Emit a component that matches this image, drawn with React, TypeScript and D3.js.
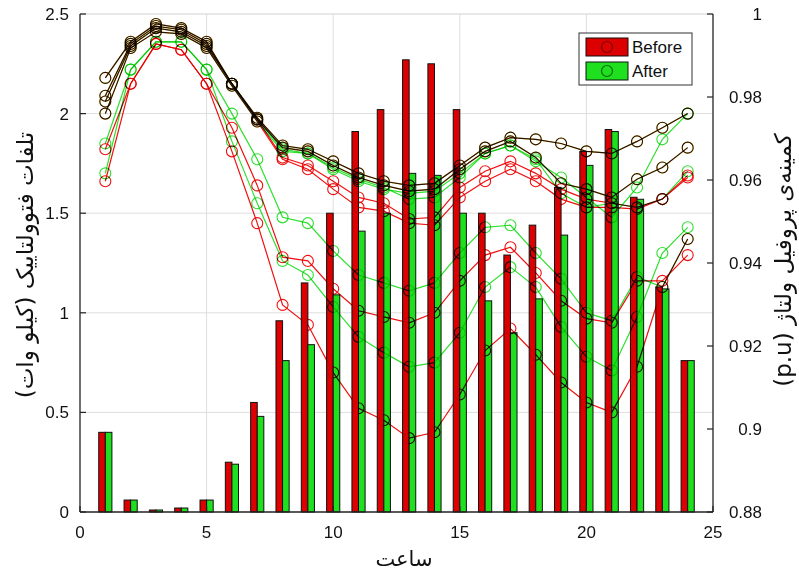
import React, { useEffect } from 'react';
import * as d3 from 'd3';

// ---------- data ----------
const hours = [1, 2, 3, 4, 5, 6, 7, 8, 9, 10, 11, 12, 13, 14, 15, 16, 17, 18, 19, 20, 21, 22, 23, 24];

// PV losses (kW), left axis
const lossBefore = [0.40, 0.06, 0.01, 0.02, 0.06, 0.25, 0.55, 0.96, 1.15, 1.50, 1.91, 2.02, 2.27, 2.25, 2.02, 1.50, 1.29, 1.44, 1.63, 1.81, 1.92, 1.58, 1.13, 0.76];
const lossAfter = [0.40, 0.06, 0.01, 0.02, 0.06, 0.24, 0.48, 0.76, 0.84, 1.09, 1.41, 1.50, 1.70, 1.69, 1.50, 1.06, 0.90, 1.07, 1.39, 1.74, 1.91, 1.57, 1.12, 0.76];

// minimum voltage profiles (p.u.), right axis
const vBus1Before = [0.9846, 0.9933, 0.9976, 0.9966, 0.9933, 0.9832, 0.9750, 0.9683, 0.9674, 0.9645, 0.9616, 0.9597, 0.9587, 0.9592, 0.9635, 0.9678, 0.9702, 0.9698, 0.9688, 0.9669, 0.9664, 0.9693, 0.9726, 0.9760];
const vBus1After = [0.9846, 0.9933, 0.9976, 0.9966, 0.9933, 0.9832, 0.9750, 0.9683, 0.9674, 0.9645, 0.9616, 0.9597, 0.9587, 0.9592, 0.9635, 0.9678, 0.9702, 0.9698, 0.9688, 0.9669, 0.9664, 0.9693, 0.9726, 0.9760];
const vBus2Before = [0.9803, 0.9928, 0.9971, 0.9962, 0.9928, 0.9832, 0.9746, 0.9678, 0.9669, 0.9635, 0.9606, 0.9587, 0.9573, 0.9578, 0.9626, 0.9669, 0.9693, 0.9654, 0.9592, 0.9578, 0.9558, 0.9602, 0.9630, 0.9678];
const vBus2After = [0.9803, 0.9928, 0.9971, 0.9962, 0.9928, 0.9832, 0.9746, 0.9678, 0.9669, 0.9635, 0.9606, 0.9587, 0.9573, 0.9578, 0.9626, 0.9669, 0.9693, 0.9654, 0.9592, 0.9578, 0.9558, 0.9602, 0.9630, 0.9678];
const vBus3Before = [0.9789, 0.9923, 0.9966, 0.9957, 0.9923, 0.9832, 0.9746, 0.9654, 0.9635, 0.9597, 0.9558, 0.9544, 0.9506, 0.9510, 0.9582, 0.9621, 0.9645, 0.9616, 0.9578, 0.9554, 0.9544, 0.9534, 0.9554, 0.9611];
const vBus3After = [0.9789, 0.9923, 0.9966, 0.9957, 0.9923, 0.9832, 0.9746, 0.9674, 0.9664, 0.9630, 0.9602, 0.9582, 0.9554, 0.9558, 0.9606, 0.9664, 0.9683, 0.9645, 0.9606, 0.9558, 0.9510, 0.9582, 0.9698, 0.9760];
const vBus4Before = [0.9760, 0.9918, 0.9957, 0.9952, 0.9918, 0.9827, 0.9741, 0.9650, 0.9626, 0.9578, 0.9534, 0.9525, 0.9496, 0.9491, 0.9558, 0.9597, 0.9626, 0.9597, 0.9554, 0.9534, 0.9534, 0.9530, 0.9554, 0.9606];
const vBus4After = [0.9760, 0.9918, 0.9957, 0.9952, 0.9918, 0.9827, 0.9741, 0.9669, 0.9664, 0.9626, 0.9597, 0.9578, 0.9568, 0.9573, 0.9616, 0.9664, 0.9683, 0.9650, 0.9568, 0.9534, 0.9544, 0.9534, 0.9554, 0.9621];
const vBus5Before = [0.9674, 0.9832, 0.9928, 0.9914, 0.9832, 0.9726, 0.9587, 0.9414, 0.9405, 0.9338, 0.9285, 0.9270, 0.9256, 0.9280, 0.9357, 0.9419, 0.9438, 0.9376, 0.9309, 0.9266, 0.9256, 0.9357, 0.9357, 0.9419];
const vBus5After = [0.9688, 0.9866, 0.9933, 0.9933, 0.9866, 0.9760, 0.9650, 0.9510, 0.9496, 0.9429, 0.9371, 0.9352, 0.9333, 0.9352, 0.9424, 0.9486, 0.9491, 0.9424, 0.9362, 0.9280, 0.9261, 0.9366, 0.9342, 0.9458];
const vBus6Before = [0.9597, 0.9832, 0.9928, 0.9914, 0.9832, 0.9669, 0.9496, 0.9299, 0.9251, 0.9136, 0.9050, 0.9021, 0.8978, 0.8992, 0.9083, 0.9189, 0.9242, 0.9179, 0.9112, 0.9064, 0.9040, 0.9150, 0.9342, 0.9458];
const vBus6After = [0.9616, 0.9866, 0.9933, 0.9933, 0.9866, 0.9693, 0.9544, 0.9405, 0.9371, 0.9294, 0.9222, 0.9184, 0.9150, 0.9160, 0.9232, 0.9342, 0.9390, 0.9342, 0.9246, 0.9174, 0.9141, 0.9270, 0.9424, 0.9486];

const beforeProfiles = [vBus1Before, vBus2Before, vBus3Before, vBus4Before, vBus5Before, vBus6Before];
const afterProfiles = [vBus1After, vBus2After, vBus3After, vBus4After, vBus5After, vBus6After];

const xTicks = [0, 5, 10, 15, 20, 25];
const leftTicks = [0, 0.5, 1, 1.5, 2, 2.5];
const rightTicks = [0.88, 0.9, 0.92, 0.94, 0.96, 0.98, 1];
const xGrid = [5, 10, 15, 20];
const yGrid = [0.5, 1, 1.5, 2];

const legendLabels = ['Before', 'After'];

const xTitle = 'ساعت';
const yLeftTitle = 'تلفات فتوولتاییک (کیلو وات)';
const yRightTitle = 'کمینه‌ی پروفیل ولتاژ (p.u)';

// ---------- styling ----------
const W = 799;
const H = 574;
const RED = '#f01010';
const GREEN = '#2ee02e';
const BAR_RED = '#dd0000';
const BAR_GREEN = '#1ee01e';
const NUM_FONT = '"Liberation Sans", Arial, sans-serif';
const FA_FONT = '"DejaVu Sans", sans-serif';

export default function App() {
  useEffect(() => {
    document.body.style.margin = '0';
  }, []);

  const x = d3.scaleLinear().domain([0, 25]).range([80, 713]);
  const yL = d3.scaleLinear().domain([0, 2.5]).range([512, 14]);
  const yR = d3.scaleLinear().domain([0.88, 1]).range([512, 14]);
  const halfGroup = 0.26;

  const line = d3
    .line<number>()
    .x((_, i) => x(hours[i]))
    .y((d) => yR(d));

  const blend: React.CSSProperties = { mixBlendMode: 'multiply' };

  const renderProfile = (vals: number[], color: string, key: string) => (
    <g key={key}>
      <path d={line(vals) || ''} fill="none" stroke={color} strokeWidth={1.2} style={blend} />
      {vals.map((v, i) => (
        <circle
          key={i}
          cx={x(hours[i])}
          cy={yR(v)}
          r={5.5}
          fill="none"
          stroke={color}
          strokeWidth={1.1}
          style={blend}
        />
      ))}
    </g>
  );

  const [x0, x1] = x.range();
  const [yb, yt] = yL.range();

  return (
    <svg
      width={W}
      height={H}
      viewBox={`0 0 ${W} ${H}`}
      style={{ position: 'absolute', left: 0, top: 0, display: 'block', background: '#fff' }}
    >
      <rect x={0} y={0} width={W} height={H} fill="#fff" />
      {/* grid */}
      {xGrid.map((t) => (
        <line key={'gx' + t} x1={x(t)} x2={x(t)} y1={yb} y2={yt} stroke="#dedede" strokeWidth={1} />
      ))}
      {yGrid.map((t) => (
        <line key={'gy' + t} x1={x0} x2={x1} y1={yL(t)} y2={yL(t)} stroke="#dedede" strokeWidth={1} />
      ))}
      <line x1={x0} x2={x1} y1={yt} y2={yt} stroke="#d0d0d0" strokeWidth={1} />

      {/* bars */}
      {hours.map((h, i) => (
        <g key={'b' + h}>
          <rect
            x={x(h - halfGroup)}
            y={yL(lossBefore[i])}
            width={x(h) - x(h - halfGroup)}
            height={yL(0) - yL(lossBefore[i])}
            fill={BAR_RED}
            stroke="#111"
            strokeWidth={1}
          />
          <rect
            x={x(h)}
            y={yL(lossAfter[i])}
            width={x(h + halfGroup) - x(h)}
            height={yL(0) - yL(lossAfter[i])}
            fill={BAR_GREEN}
            stroke="#111"
            strokeWidth={1}
          />
        </g>
      ))}

      {/* voltage profiles */}
      {beforeProfiles.map((p, k) => renderProfile(p, RED, 'r' + k))}
      {afterProfiles.map((p, k) => renderProfile(p, GREEN, 'g' + k))}

      {/* axes */}
      <line x1={x0} x2={x0} y1={yt} y2={yb} stroke="#222" strokeWidth={1.3} />
      <line x1={x1} x2={x1} y1={yt} y2={yb} stroke="#222" strokeWidth={1.3} />
      <line x1={x0} x2={x1} y1={yb} y2={yb} stroke="#222" strokeWidth={1.3} />

      {leftTicks.map((t) => (
        <g key={'lt' + t}>
          <line x1={x0} x2={x0 + 6} y1={yL(t)} y2={yL(t)} stroke="#222" strokeWidth={1.2} />
          <text x={69} y={yL(t) + 6} textAnchor="end" fontFamily={NUM_FONT} fontSize={17} fill="#111">
            {String(t)}
          </text>
        </g>
      ))}
      {rightTicks.map((t) => (
        <g key={'rt' + t}>
          <line x1={x1 - 6} x2={x1} y1={yR(t)} y2={yR(t)} stroke="#222" strokeWidth={1.2} />
          <text x={762} y={yR(t) + 6} textAnchor="end" fontFamily={NUM_FONT} fontSize={17} fill="#111">
            {String(t)}
          </text>
        </g>
      ))}
      {xTicks.map((t) => (
        <g key={'xt' + t}>
          <line x1={x(t)} x2={x(t)} y1={yb} y2={yb - 6} stroke="#222" strokeWidth={1.2} />
          <text x={x(t)} y={538} textAnchor="middle" fontFamily={NUM_FONT} fontSize={17} fill="#111">
            {String(t)}
          </text>
        </g>
      ))}

      {/* titles */}
      <text x={404} y={566} textAnchor="middle" fontFamily={FA_FONT} fontSize={21} fill="#111" direction="rtl">
        {xTitle}
      </text>
      <text
        transform="translate(33,265) rotate(-90)"
        textAnchor="middle"
        fontFamily={FA_FONT}
        fontSize={23}
        fill="#111"
        direction="rtl"
      >
        {yLeftTitle}
      </text>
      <text
        transform="translate(791,260) rotate(-90)"
        textAnchor="middle"
        fontFamily={FA_FONT}
        fontSize={23}
        fill="#111"
        direction="rtl"
      >
        {yRightTitle}
      </text>

      {/* legend */}
      <g>
        <rect x={579} y={33} width={113} height={52} fill="#fff" stroke="#333" strokeWidth={1} />
        {legendLabels.map((lab, i) => {
          const yy = 38 + i * 24;
          const fill = i === 0 ? BAR_RED : BAR_GREEN;
          const mk = i === 0 ? '#7a0000' : '#0a6a0a';
          return (
            <g key={lab}>
              <rect x={586} y={yy} width={42} height={18} fill={fill} stroke="#111" strokeWidth={1} />
              <circle cx={607} cy={yy + 9} r={5.5} fill="none" stroke={mk} strokeWidth={1.2} />
              <text x={632} y={yy + 15} fontFamily={NUM_FONT} fontSize={17} fill="#111">
                {lab}
              </text>
            </g>
          );
        })}
      </g>
    </svg>
  );
}
